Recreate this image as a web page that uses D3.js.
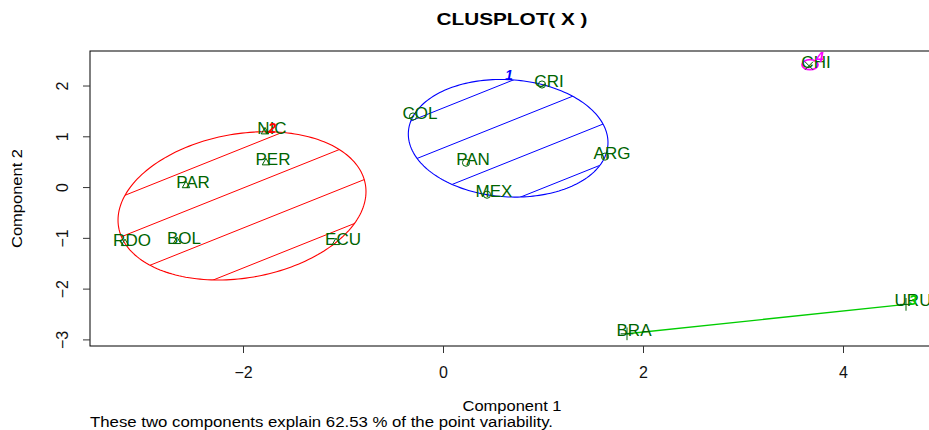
<!DOCTYPE html>
<html>
<head>
<meta charset="utf-8">
<script src="https://cdn.jsdelivr.net/npm/d3@7"></script>
<style>
  body { margin: 0; background: #fff; }
  text { font-family: "Liberation Sans", Arial, sans-serif; }
</style>
</head>
<body>
<div id="chart"></div>
<script>
// data (component scores)
var countries = ["COL", "CRI", "PAN", "ARG", "MEX", "NIC", "PER", "PAR", "RDO", "BOL", "ECU", "BRA", "URU", "CHI"];
var comp1 = [-0.30, 0.99, 0.23, 1.62, 0.44, -1.78, -1.77, -2.57, -3.18, -2.66, -1.07, 1.84, 4.63, 3.66];
var comp2 = [1.39, 2.02, 0.48, 0.60, -0.15, 1.09, 0.48, 0.03, -1.11, -1.07, -1.09, -2.89, -2.31, 2.39];
var clusterOf = [1, 1, 1, 1, 1, 2, 2, 2, 2, 2, 2, 3, 3, 4];
var clusterIds = [1, 2, 3, 4];
var clusterColors = ["#0000FF", "#FF0000", "#00CD00", "#FF00FF"];
var xTicks = [-2, 0, 2, 4];
var yTicks = [-3, -2, -1, 0, 1, 2];

var width = 929, height = 430;
var plotLeft = 90, plotRight = 934, plotTop = 51, plotBottom = 346;
var ptColor = "#006400";

var svg = d3.select("#chart").append("svg")
    .attr("width", width)
    .attr("height", height);

var x = d3.scaleLinear().domain([-3.53, 4.91]).range([plotLeft, plotRight]);
var y = d3.scaleLinear().domain([-3.13, 2.68]).range([plotBottom, plotTop]);

// minimum volume ellipse round the points (Khachiyan)
function inv3(m) {
    var a = m[0][0], b = m[0][1], c = m[0][2],
        d = m[1][0], e = m[1][1], f = m[1][2],
        g = m[2][0], h = m[2][1], i = m[2][2];
    var A = e * i - f * h, B = -(d * i - f * g), C = d * h - e * g;
    var det = a * A + b * B + c * C;
    return [
        [A / det, -(b * i - c * h) / det, (b * f - c * e) / det],
        [B / det, (a * i - c * g) / det, -(a * f - c * d) / det],
        [C / det, -(a * h - b * g) / det, (a * e - b * d) / det]
    ];
}

function spanEllipse(pts) {
    var n = pts.length;
    var u = pts.map(function() { return 1 / n; });
    for (var it = 0; it < 5000; it++) {
        var X = [[0, 0, 0], [0, 0, 0], [0, 0, 0]];
        pts.forEach(function(p, k) {
            var q = [p[0], p[1], 1];
            for (var a = 0; a < 3; a++)
                for (var b = 0; b < 3; b++) X[a][b] += u[k] * q[a] * q[b];
        });
        var Xi = inv3(X);
        var M = pts.map(function(p) {
            var q = [p[0], p[1], 1], s = 0;
            for (var a = 0; a < 3; a++)
                for (var b = 0; b < 3; b++) s += q[a] * Xi[a][b] * q[b];
            return s;
        });
        var j = d3.maxIndex(M);
        var step = (M[j] - 3) / (3 * (M[j] - 1));
        if (step < 1e-9) break;
        u = u.map(function(v) { return v * (1 - step); });
        u[j] += step;
    }
    var cx = d3.sum(pts, function(p, k) { return u[k] * p[0]; });
    var cy = d3.sum(pts, function(p, k) { return u[k] * p[1]; });
    var sxx = 0, sxy = 0, syy = 0;
    pts.forEach(function(p, k) {
        sxx += u[k] * (p[0] - cx) * (p[0] - cx);
        sxy += u[k] * (p[0] - cx) * (p[1] - cy);
        syy += u[k] * (p[1] - cy) * (p[1] - cy);
    });
    sxx *= 2; sxy *= 2; syy *= 2;
    // make sure every point is inside
    var det = sxx * syy - sxy * sxy;
    var dmax = d3.max(pts, function(p) {
        var dx = p[0] - cx, dy = p[1] - cy;
        return (syy * dx * dx - 2 * sxy * dx * dy + sxx * dy * dy) / det;
    });
    sxx *= dmax; sxy *= dmax; syy *= dmax;
    var l11 = Math.sqrt(sxx), l21 = sxy / l11, l22 = Math.sqrt(syy - l21 * l21);
    return d3.range(0, 201).map(function(t) {
        var th = t / 200 * 2 * Math.PI;
        return [x(cx + l11 * Math.cos(th)), y(cy + l21 * Math.cos(th) + l22 * Math.sin(th))];
    });
}

var defs = svg.append("defs");
var hatchSlope = 0.4, hatchStep = 40, hatchPhase = 1;
var hatchOrigin = y(0) + hatchSlope * x(0) + hatchPhase;
var clusterLabelPos = [];

clusterIds.forEach(function(cl, ci) {
    var col = clusterColors[ci];
    var pts = [];
    countries.forEach(function(c, k) {
        if (clusterOf[k] === cl) pts.push([comp1[k], comp2[k]]);
    });
    var top;
    if (pts.length >= 3) {
        var ell = spanEllipse(pts);
        var line = d3.line();
        defs.append("clipPath").attr("id", "clip" + cl)
            .append("path").attr("d", line(ell) + "Z");
        var cs = ell.map(function(p) { return p[1] + hatchSlope * p[0]; });
        var kLo = Math.ceil((d3.min(cs) - hatchOrigin) / hatchStep);
        var kHi = Math.floor((d3.max(cs) - hatchOrigin) / hatchStep);
        var hx0 = d3.min(ell, function(p) { return p[0]; }) - 5;
        var hx1 = d3.max(ell, function(p) { return p[0]; }) + 5;
        var hatch = svg.append("g").attr("clip-path", "url(#clip" + cl + ")");
        d3.range(kLo, kHi + 1).forEach(function(k) {
            var c = hatchOrigin + k * hatchStep;
            hatch.append("line")
                .attr("x1", hx0).attr("y1", c - hatchSlope * hx0)
                .attr("x2", hx1).attr("y2", c - hatchSlope * hx1)
                .attr("stroke", col).attr("stroke-width", 1);
        });
        svg.append("path").attr("d", line(ell) + "Z")
            .attr("fill", "none").attr("stroke", col).attr("stroke-width", 1.1);
        top = ell[d3.minIndex(ell, function(p) { return p[1]; })];
    } else if (pts.length === 2) {
        svg.append("line")
            .attr("x1", x(pts[0][0])).attr("y1", y(pts[0][1]))
            .attr("x2", x(pts[1][0])).attr("y2", y(pts[1][1]))
            .attr("stroke", col).attr("stroke-width", 1.4);
        var hi = pts[0][1] > pts[1][1] ? pts[0] : pts[1];
        top = [x(hi[0]), y(hi[1])];
    } else {
        var px = x(pts[0][0]), py = y(pts[0][1]);
        svg.append("ellipse").attr("cx", px + 1).attr("cy", py - 1)
            .attr("rx", 8).attr("ry", 5)
            .attr("fill", "none").attr("stroke", col).attr("stroke-width", 1.8);
        top = [px + 4, py - 5];
    }
    clusterLabelPos.push(top);
});

// points
var symbolTypes = [d3.symbolCircle, d3.symbolTriangle2 || d3.symbolTriangle,
                   d3.symbolPlus || d3.symbolCross, d3.symbolTimes || d3.symbolCross];
var symbolSizes = [40, 40, 55, 45];
countries.forEach(function(c, k) {
    var s = clusterOf[k] - 1;
    svg.append("path")
        .attr("d", d3.symbol().type(symbolTypes[s]).size(symbolSizes[s])())
        .attr("transform", "translate(" + x(comp1[k]) + "," + y(comp2[k]) + ")")
        .attr("fill", "none")
        .attr("stroke", ptColor)
        .attr("stroke-width", 1);
});

// country labels
var labDx = 7, labDy = -4;
svg.selectAll(".lab")
    .data(countries)
    .enter()
    .append("text")
    .attr("class", "lab")
    .attr("x", function(d, k) { return x(comp1[k]) + labDx; })
    .attr("y", function(d, k) { return y(comp2[k]) + labDy; })
    .attr("dy", "0.36em")
    .attr("text-anchor", "middle")
    .attr("font-size", 17)
    .attr("fill", ptColor)
    .text(function(d) { return d; });

// cluster numbers
clusterIds.forEach(function(cl, ci) {
    var p = clusterLabelPos[ci];
    svg.append("text")
        .attr("x", p[0] + labDx)
        .attr("y", p[1] + labDy)
        .attr("dy", "0.36em")
        .attr("text-anchor", "middle")
        .attr("font-size", 14)
        .attr("font-weight", "bold")
        .attr("font-style", "italic")
        .attr("fill", clusterColors[ci])
        .text(cl);
});

// box
svg.append("rect")
    .attr("x", plotLeft).attr("y", plotTop)
    .attr("width", plotRight - plotLeft).attr("height", plotBottom - plotTop)
    .attr("fill", "none").attr("stroke", "#000").attr("stroke-width", 1);

// axes
var xAxis = svg.append("g")
    .attr("transform", "translate(0," + plotBottom + ")")
    .call(d3.axisBottom(x).tickValues(xTicks).tickSize(7).tickFormat(d3.format("d")));
xAxis.select(".domain").remove();
xAxis.selectAll("line").attr("stroke", "#333");
xAxis.selectAll("text")
    .style("font-size", "16px")
    .style("font-family", "'Liberation Sans', Arial, sans-serif")
    .attr("fill", "#111")
    .attr("y", 32).attr("dy", 0);

var yAxis = svg.append("g")
    .attr("transform", "translate(" + plotLeft + ",0)")
    .call(d3.axisLeft(y).tickValues(yTicks).tickSize(7).tickFormat(d3.format("d")));
yAxis.select(".domain").remove();
yAxis.selectAll("line").attr("stroke", "#333");
yAxis.selectAll("text")
    .style("font-size", "16px")
    .style("font-family", "'Liberation Sans', Arial, sans-serif")
    .attr("fill", "#111")
    .attr("x", null).attr("dy", 0)
    .attr("text-anchor", "middle")
    .attr("transform", "translate(-22,0) rotate(-90)");

// titles
var midX = (plotLeft + plotRight) / 2;
svg.append("text")
    .attr("x", midX).attr("y", 25)
    .attr("text-anchor", "middle")
    .attr("font-size", 16.5).attr("font-weight", "bold")
    .attr("textLength", 151).attr("lengthAdjust", "spacingAndGlyphs")
    .text("CLUSPLOT( X )");

svg.append("text")
    .attr("x", midX).attr("y", 411)
    .attr("text-anchor", "middle")
    .attr("font-size", 14)
    .attr("textLength", 99).attr("lengthAdjust", "spacingAndGlyphs")
    .text("Component 1");

svg.append("text")
    .attr("transform", "translate(22," + ((plotTop + plotBottom) / 2) + ") rotate(-90)")
    .attr("text-anchor", "middle")
    .attr("font-size", 14)
    .attr("textLength", 99).attr("lengthAdjust", "spacingAndGlyphs")
    .text("Component 2");

svg.append("text")
    .attr("x", plotLeft).attr("y", 427)
    .attr("font-size", 14)
    .attr("textLength", 463).attr("lengthAdjust", "spacingAndGlyphs")
    .text("These two components explain 62.53 % of the point variability.");
</script>
</body>
</html>
